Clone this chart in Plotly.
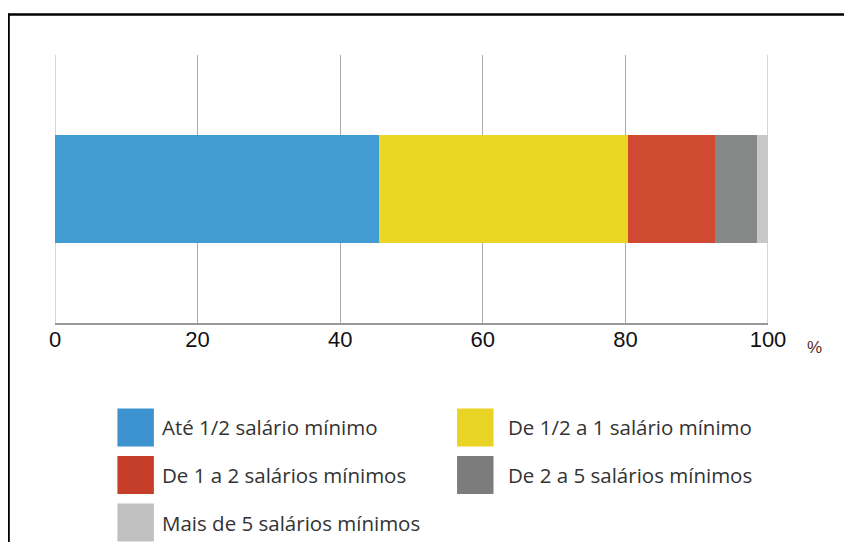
import plotly.graph_objects as go

# ---- data ----
categories = ["Até 1/2 salário mínimo", "De 1/2 a 1 salário mínimo",
              "De 1 a 2 salários mínimos", "De 2 a 5 salários mínimos",
              "Mais de 5 salários mínimos"]
values = [45.4, 35.0, 12.1, 5.9, 1.6]
colors = ["#439BD3", "#EAD723", "#CF4A30", "#878888", "#C8C8C8"]
legend_colors = ["#3D93D0", "#E9D325", "#C53E2A", "#7C7C7C", "#C0C0C0"]
tick_vals = [0, 20, 40, 60, 80, 100]
tick_text = ["0", "20", "40", "60", "80", "100"]

OFF = 8  # page body margin
W, H = 852 - OFF, 542 - OFF
L, R, T, B = 54.5 - OFF, 768.3 - OFF, 55 - OFF, 322.7 - OFF  # plot-area pixel edges


def px(x):
    return (x - OFF - L) / (R - L)


def py(y):
    return (B - (y - OFF)) / (B - T)


fig = go.Figure()
for name, v, c in zip(categories, values, colors):
    fig.add_trace(go.Bar(
        y=[""], x=[v], orientation="h", name=name,
        marker=dict(color=c, line=dict(width=0)),
        width=0.4, showlegend=False, hoverinfo="name+x",
    ))

shapes = []
annotations = []

# gridlines at the range edges (plotly omits them)
for tv in (tick_vals[0], tick_vals[-1]):
    shapes.append(dict(type="line", xref="x", yref="paper", x0=tv, x1=tv, y0=0, y1=1,
                       layer="below", line=dict(color="#AAAAAA", width=1)))

# legend (two columns, built from the data arrays)
col_x = [117, 457]
text_x = [160, 506]
row_y = [427, 474.5, 522]
for i, (name, c) in enumerate(zip(categories, legend_colors)):
    cx = col_x[i % 2]
    cy = row_y[i // 2]
    shapes.append(dict(type="rect", xref="paper", yref="paper",
                       x0=px(cx), x1=px(cx + 36.5), y0=py(cy - 19), y1=py(cy + 19),
                       fillcolor=c, line=dict(width=0)))
    annotations.append(dict(text=name, xref="paper", yref="paper",
                            x=px(text_x[i % 2]), y=py(cy), xanchor="left", yanchor="middle",
                            showarrow=False,
                            font=dict(family="Open Sans", size=20.5, color="#333333")))

# "%" unit label
annotations.append(dict(text="%", xref="paper", yref="paper", x=px(815), y=py(347),
                        xanchor="center", yanchor="middle", showarrow=False,
                        font=dict(family="Liberation Sans", size=17, color="#5A2A1C")))

# outer frame (top and left edges)
shapes.append(dict(type="line", xref="paper", yref="paper",
                   x0=px(7), x1=px(870), y0=py(14.5), y1=py(14.5),
                   line=dict(color="black", width=2.5)))
shapes.append(dict(type="line", xref="paper", yref="paper",
                   x0=px(8), x1=px(8), y0=py(13.5), y1=py(570),
                   line=dict(color="black", width=2.5)))

fig.update_layout(
    width=W, height=H,
    margin=dict(l=L, r=W - R, t=T, b=H - B, pad=0),
    barmode="stack",
    plot_bgcolor="white", paper_bgcolor="white",
    showlegend=False,
    shapes=shapes, annotations=annotations,
    xaxis=dict(range=[0, 100], tickvals=tick_vals, ticktext=tick_text,
               showgrid=True, gridcolor="#AAAAAA", gridwidth=1,
               zeroline=False, showline=True, linecolor="#999999", linewidth=2,
               ticks="", ticklabelstandoff=-4,
               tickfont=dict(family="Liberation Sans", size=22, color="#111111"),
               fixedrange=True),
    yaxis=dict(range=[-0.5, 0.5], showticklabels=False, showgrid=False,
               zeroline=False, showline=False, fixedrange=True),
)

fig.write_html("out.html")
